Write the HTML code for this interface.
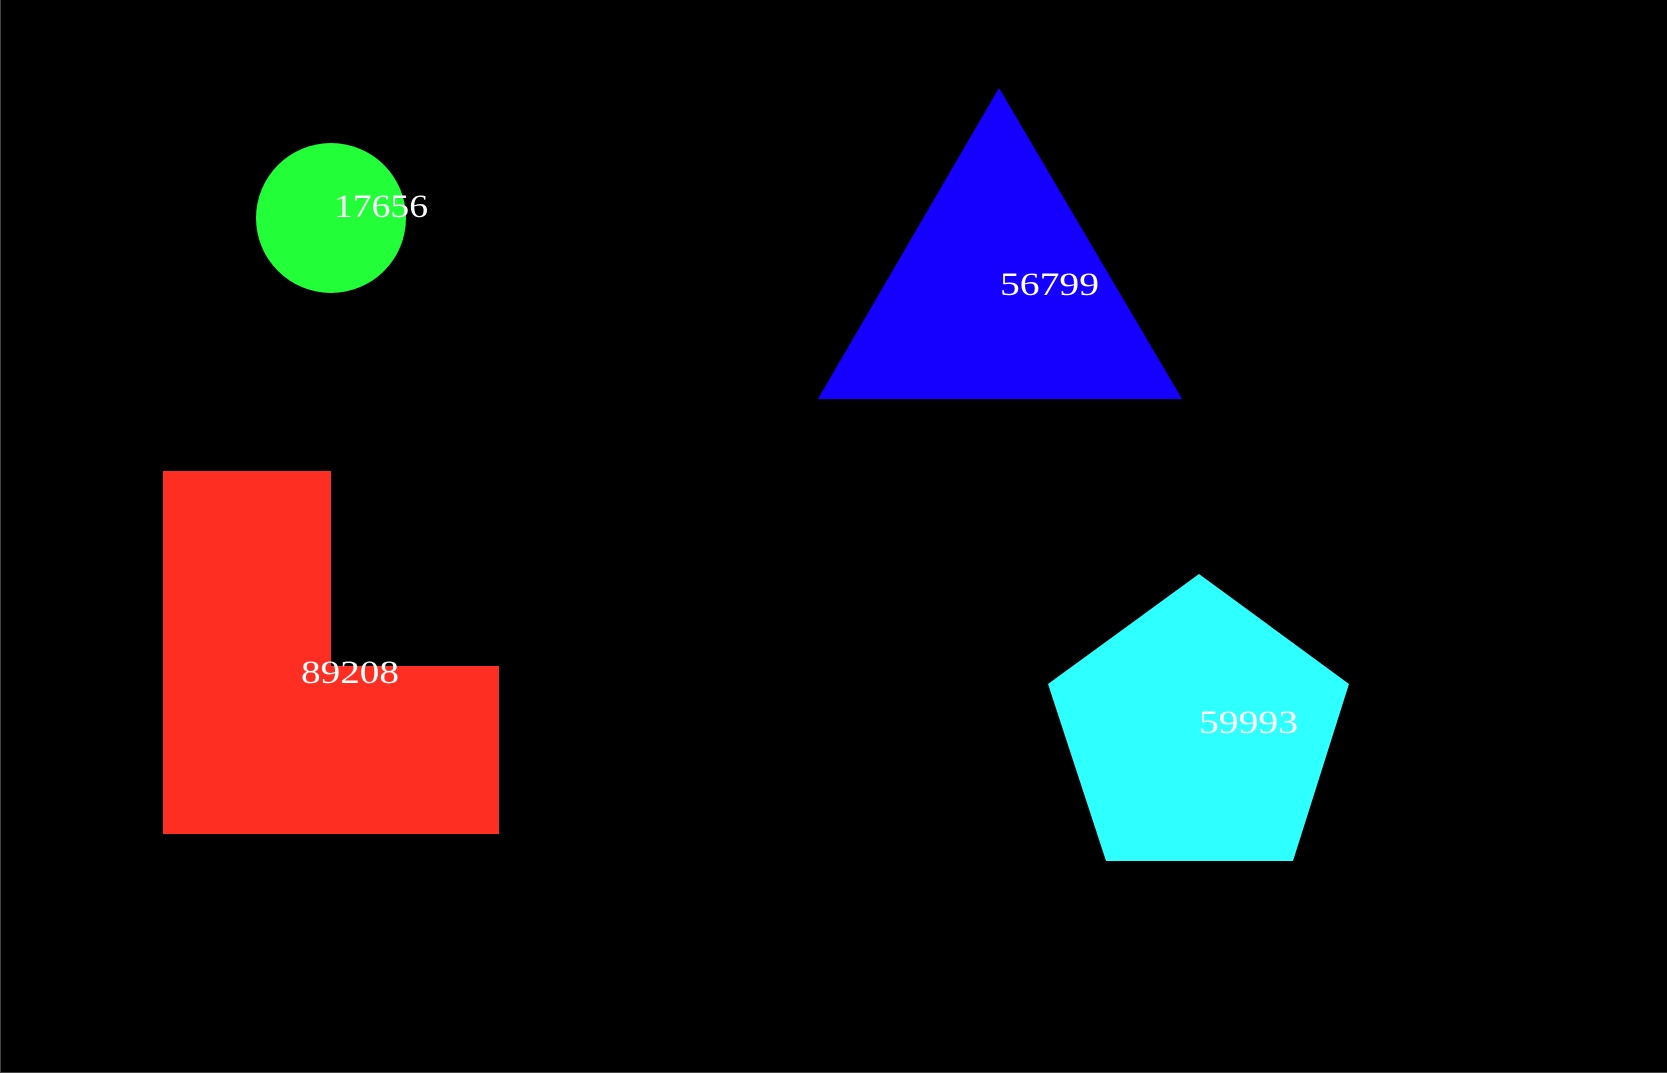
<!DOCTYPE html>
<html><head><meta charset="utf-8"><style>
html,body{margin:0;padding:0;background:#000;}
svg{display:block;}
text{font-family:"Liberation Serif",serif;font-size:33px;fill:#fff;}
</style></head><body>
<svg width="1667" height="1073">
<rect x="0" y="0" width="1667" height="1073" fill="#000"/>
<line x1="0.5" y1="0" x2="0.5" y2="1073" stroke="#444"/>
<line x1="0" y1="1072.5" x2="1667" y2="1072.5" stroke="#444"/>
<circle cx="331" cy="218" r="75" fill="#22ff38"/>
<text x="334" y="217" textLength="94" lengthAdjust="spacingAndGlyphs">17656</text>
<polygon points="999,88 818,399 1182,399" fill="#1500ff"/>
<text x="1000" y="295" textLength="99" lengthAdjust="spacingAndGlyphs">56799</text>
<polygon points="163,471 331,471 331,666 499,666 499,834 163,834" fill="#ff2e22"/>
<text x="301" y="683" textLength="98" lengthAdjust="spacingAndGlyphs">89208</text>
<polygon points="1199,574 1349,684 1293,861 1106,861 1048,684" fill="#2effff"/>
<text x="1199" y="733" textLength="99" lengthAdjust="spacingAndGlyphs">59993</text>
</svg>
</body></html>
